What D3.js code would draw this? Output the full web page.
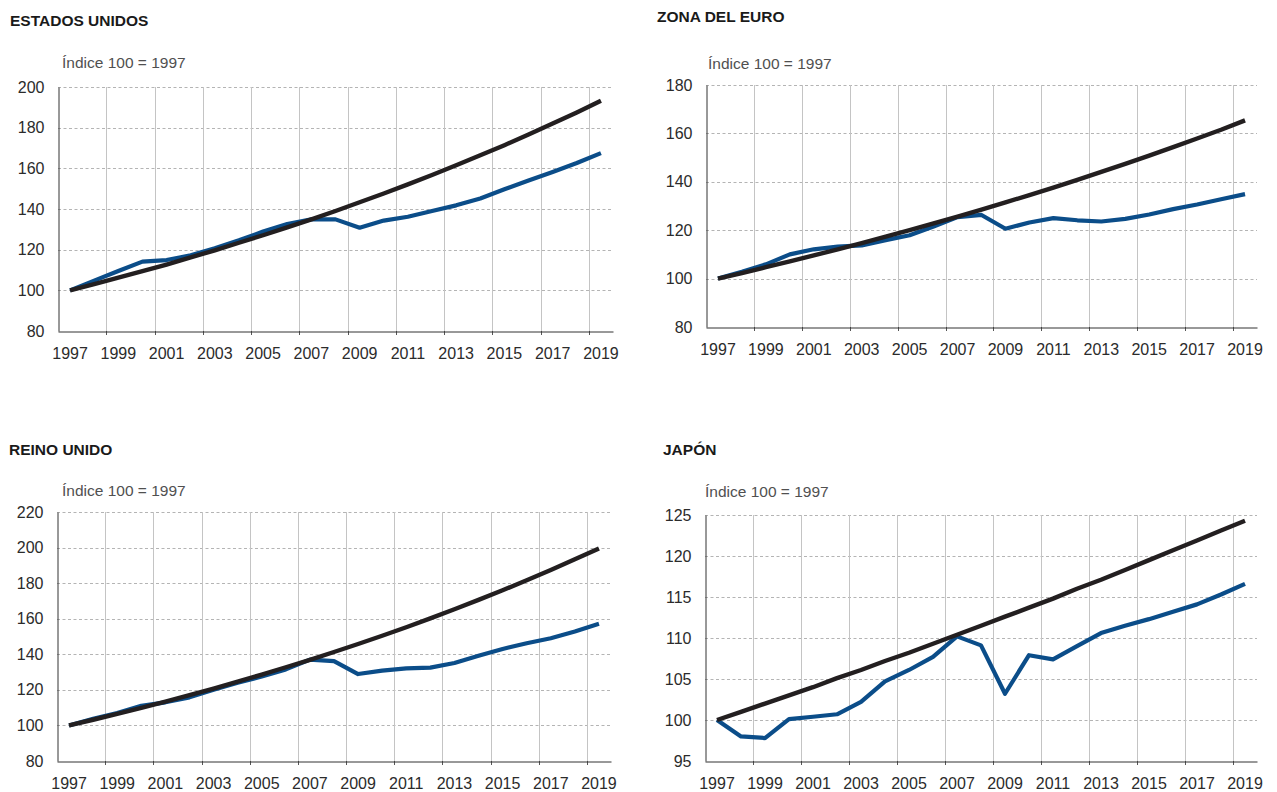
<!DOCTYPE html>
<html><head><meta charset="utf-8">
<script src="https://cdn.jsdelivr.net/npm/d3@7"></script>
<style>body{margin:0;background:#fff} svg{display:block}</style>
</head><body><svg id="c" width="1277" height="792"></svg>
<script>
// ---------- DATA ----------
const years = [1997,1998,1999,2000,2001,2002,2003,2004,2005,2006,2007,2008,2009,2010,2011,2012,2013,2014,2015,2016,2017,2018,2019];
const labelYears = [1997,1999,2001,2003,2005,2007,2009,2011,2013,2015,2017,2019];
const gridYears = [1999,2001,2003,2005,2007,2009,2011,2013,2015,2017,2019];
const panelTitles = ["ESTADOS UNIDOS","ZONA DEL EURO","REINO UNIDO","JAPÓN"];
const unitLabel = "Índice 100 = 1997";

const usActual = [100,104.8,109.5,114.1,114.9,117.2,120.7,124.6,128.9,132.6,134.9,134.9,130.8,134.3,136.2,139.0,141.8,145.2,149.7,154.0,158.2,162.6,167.5];
const usTrend  = [100,103.0,106.2,109.4,112.7,116.2,119.7,123.4,127.1,131.0,134.9,139.0,143.3,147.6,152.1,156.7,161.5,166.4,171.4,176.6,182.0,187.5,193.2];
const euActual = [100,102.8,105.9,110.0,112.1,113.2,113.7,115.9,117.9,121.5,125.4,126.3,120.6,123.2,125.0,124.1,123.6,124.7,126.5,128.7,130.6,132.8,134.9];
const euTrend  = [100,102.3,104.7,107.1,109.6,112.1,114.7,117.3,120.0,122.8,125.6,128.5,131.5,134.5,137.6,140.8,144.1,147.4,150.8,154.3,157.9,161.5,165.4];
const ukActual = [100,103.8,107.0,111.0,113.0,115.8,120.0,124.0,127.5,131.5,137.0,136.2,128.9,130.8,132.1,132.5,135.1,139.2,143.0,146.2,149.0,152.8,157.1];
const ukTrend  = [100,103.2,106.5,109.9,113.4,117.0,120.7,124.6,128.6,132.7,136.9,141.3,145.8,150.4,155.2,160.2,165.3,170.6,176.0,181.6,187.4,193.4,199.5];
const jpActual = [100,98.0,97.8,100.1,100.4,100.7,102.2,104.7,106.1,107.7,110.2,109.1,103.2,107.9,107.4,109.0,110.6,111.5,112.3,113.2,114.1,115.3,116.6];
const jpTrend  = [100,101.0,102.0,103.0,104.0,105.1,106.1,107.2,108.2,109.3,110.4,111.5,112.6,113.7,114.8,116.0,117.1,118.3,119.5,120.7,121.9,123.1,124.3];

const usTicks = [80,100,120,140,160,180,200];
const euTicks = [80,100,120,140,160,180];
const ukTicks = [80,100,120,140,160,180,200,220];
const jpTicks = [95,100,105,110,115,120,125];

// ---------- LAYOUT ----------
const panels = [
  {title:panelTitles[0], actual:usActual, trend:usTrend, ticks:usTicks, domain:[80,200],
   x0:58, x1:613, yTop:87, yBot:331, titleX:10, titleY:26, unitX:62, unitY:68},
  {title:panelTitles[1], actual:euActual, trend:euTrend, ticks:euTicks, domain:[80,180],
   x0:706, x1:1257, yTop:85, yBot:327, titleX:657, titleY:22, unitX:708, unitY:69},
  {title:panelTitles[2], actual:ukActual, trend:ukTrend, ticks:ukTicks, domain:[80,220],
   x0:57, x1:611, yTop:512, yBot:761, titleX:9, titleY:455, unitX:62, unitY:496},
  {title:panelTitles[3], actual:jpActual, trend:jpTrend, ticks:jpTicks, domain:[95,125],
   x0:705, x1:1257, yTop:515, yBot:761, titleX:663, titleY:455, unitX:705, unitY:497}
];

const FONT = "'Liberation Sans', Arial, Helvetica, sans-serif";
const svg = d3.select("#c");

panels.forEach(p => {
  const g = svg.append("g");
  const x = d3.scaleBand().domain(years).range([p.x0, p.x1]).padding(0);
  const bw = x.bandwidth();
  const cx = d => x(d) + bw / 2;
  const y = d3.scaleLinear().domain(p.domain).range([p.yBot, p.yTop]);

  // title
  g.append("text").attr("x", p.titleX).attr("y", p.titleY)
    .attr("font-family", FONT).attr("font-weight", "bold").attr("font-size", 15.5)
    .attr("fill", "#1a1a1a").text(p.title);
  g.append("text").attr("x", p.unitX).attr("y", p.unitY)
    .attr("font-family", FONT).attr("font-size", 15.5)
    .attr("fill", "#505050").text(unitLabel);

  // horizontal dashed gridlines
  g.append("g").selectAll("line").data(p.ticks.filter(t => t !== p.domain[0])).join("line")
    .attr("x1", p.x0).attr("x2", p.x1)
    .attr("y1", d => Math.round(y(d)) + 0.5).attr("y2", d => Math.round(y(d)) + 0.5)
    .attr("stroke", "#b4b4b4").attr("stroke-width", 1).attr("stroke-dasharray", "3,2.5");

  // vertical gridlines (solid) with ticks below axis
  g.append("g").selectAll("line").data(gridYears).join("line")
    .attr("x1", d => Math.round(x(d)) + 0.5).attr("x2", d => Math.round(x(d)) + 0.5)
    .attr("y1", p.yTop).attr("y2", p.yBot)
    .attr("stroke", "#c4c4c4").attr("stroke-width", 1);
  g.append("g").selectAll("line").data(gridYears).join("line")
    .attr("x1", d => Math.round(x(d)) + 0.5).attr("x2", d => Math.round(x(d)) + 0.5)
    .attr("y1", p.yBot).attr("y2", p.yBot + 4)
    .attr("stroke", "#555").attr("stroke-width", 1);

  // y axis
  const ya = g.append("g").attr("transform", `translate(${p.x0 + 0.5},0)`)
    .call(d3.axisLeft(y).tickValues(p.ticks).tickSize(0).tickPadding(14).tickSizeOuter(0));
  ya.select(".domain").attr("stroke", "#333");
  ya.selectAll("text").attr("font-family", FONT).attr("font-size", 16).attr("fill", "#2b2b2b");

  // x axis
  const xa = g.append("g").attr("transform", `translate(0,${p.yBot + 0.5})`)
    .call(d3.axisBottom(x).tickValues(labelYears).tickSize(0).tickPadding(16).tickSizeOuter(0));
  xa.select(".domain").attr("stroke", "#333");
  xa.selectAll("text").attr("font-family", FONT).attr("font-size", 16).attr("fill", "#2b2b2b");

  // lines
  const line = d3.line().x((d, i) => cx(years[i])).y(d => y(d));
  g.append("path").datum(p.actual).attr("d", line)
    .attr("fill", "none").attr("stroke", "#0b4d89").attr("stroke-width", 4.2)
    .attr("stroke-linejoin", "round");
  g.append("path").datum(p.trend).attr("d", line)
    .attr("fill", "none").attr("stroke", "#231f20").attr("stroke-width", 4.4)
    .attr("stroke-linejoin", "round");
});
</script>
</body></html>
